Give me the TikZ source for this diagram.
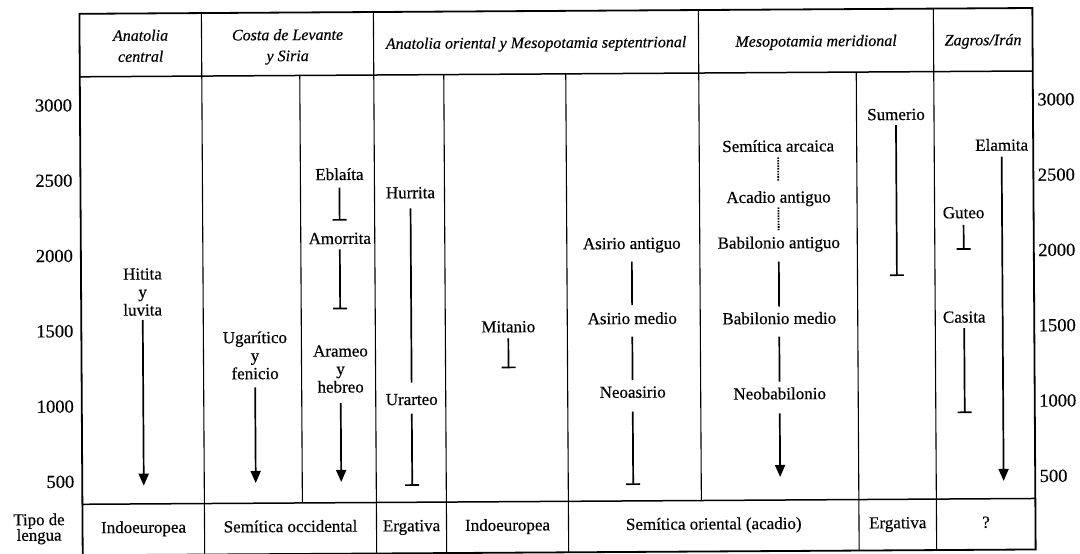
\documentclass[tikz,border=0pt]{standalone}
\usepackage{fontspec}
\setmainfont{Liberation Serif}[FakeBold=0.4]
\usetikzlibrary{arrows.meta}
\begin{document}
\begin{tikzpicture}[x=1pt,y=-1pt,
  frameln/.style={line width=1.8pt},
  hline/.style={line width=1.5pt},
  vline/.style={line width=1.1pt},
  lbl/.style={inner sep=0pt, outer sep=0pt, align=center, font=\fontsize{17}{18}\selectfont},
  sl/.style={inner sep=0pt, outer sep=0pt, anchor=base, text height=11.6pt, text depth=3.7pt, font=\fontsize{17}{18}\selectfont},
  hdr/.style={inner sep=0pt, outer sep=0pt, align=center, font=\fontsize{16}{21}\selectfont\itshape},
  yrlbl/.style={inner sep=0pt, outer sep=0pt, font=\fontsize{18.5}{20}\selectfont},
  ln/.style={line width=1.7pt},
  arr/.style={ln, -{Triangle[width=10pt,length=12pt]}},
  tbar/.style={ln, -{Bar[width=14pt]}},
  dotln/.style={line width=1.8pt, dash pattern=on 1.6pt off 1.1pt},
]
\useasboundingbox (0,0) rectangle (1080,554);
\begin{scope}[rotate around={0.35:(540,277)}, transform shape]
% frame and grid
\draw[frameln] (81,11) rectangle (1034,552.5);
\draw[hline] (81,74) -- (1034,74);
\draw[hline] (81,501.5) -- (1034,501.5);
\foreach \xx in {203,375,935} \draw[vline] (\xx,11) -- (\xx,552.5);
\draw[vline] (700,11) -- (700,501.5);
\foreach \xx in {445,567,857.5} \draw[vline] (\xx,74) -- (\xx,552.5);
\draw[vline] (301,74) -- (301,501.5);

% headers
\node[hdr, anchor=south] (h1) at (142,59.5) {Anatolia\\central};
\node[hdr, anchor=south] (h2) at (289,63) {Costa de Levante\\y Siria};
\node[hdr, anchor=base] (h3) at (537.5,48) {Anatolia oriental y Mesopotamia septentrional};
\node[hdr, anchor=base] (h4) at (817.5,48) {Mesopotamia meridional};
\node[hdr, anchor=base] (h5) at (984.5,48) {Zagros/Irán};

% year scale
\foreach \v [count=\i from 0] in {3000,2500,2000,1500,1000,500} {
  \node[yrlbl, anchor=base east] (yl\i) at (73,{108.5+75.3*\i}) {\v};
  \node[yrlbl, anchor=base west] (yr\i) at (1038.5,{108.5+75.3*\i}) {\v};
}
\node[inner sep=0pt, align=center, anchor=south, font={\fontsize{16.8}{15.5}\selectfont\lineskiplimit=-6pt}] (tipo) at (37.5,541.5) {Tipo de\\lengua};

% Anatolia central
\node[lbl, anchor=south] (hit) at (142.5,313.3) {Hitita\\y\\luvita};
\coordinate (hit-e) at (142.5,483.3);
\draw[arr, shorten <=4.3pt] (hit) -- (hit-e);

% Costa de Levante y Siria
\node[lbl, anchor=south] (uga) at (254.5,377.6) {Ugarítico\\y\\fenicio};
\coordinate (uga-e) at (254.5,481.3);
\draw[arr, shorten <=8pt] (uga) -- (uga-e);

\node[sl] (ebl) at (340,178.8) {Eblaíta};
\coordinate (ebl-e) at (340,219.5);
\draw[tbar, shorten <=4pt] (ebl) -- (ebl-e);
\node[sl] (amo) at (340,242.8) {Amorrita};
\coordinate (amo-e) at (340,308.1);
\draw[tbar, shorten <=1.6pt] (amo) -- (amo-e);
\node[lbl, anchor=south] (ara) at (340,391.5) {Arameo\\y\\hebreo};
\coordinate (ara-e) at (340,480.8);
\draw[arr, shorten <=10.3pt] (ara) -- (ara-e);

% Anatolia oriental y Mesopotamia septentrional
\node[sl] (hur) at (411,197.5) {Hurrita};
\node[sl] (ura) at (411,404.2) {Urarteo};
\draw[ln, shorten <=6.3pt, shorten >=10.7pt] (hur) -- (ura);
\coordinate (ura-e) at (411,485.2);
\draw[tbar, shorten <=4.9pt] (ura) -- (ura-e);

\node[sl] (mit) at (508,332.1) {Mitanio};
\coordinate (mit-e) at (508,368.1);
\draw[tbar, shorten <=2.3pt] (mit) -- (mit-e);

\node[sl] (asa) at (632,249.6) {Asirio antiguo};
\node[sl] (asm) at (632,324.6) {Asirio medio};
\node[sl] (neoa) at (632,398.3) {Neoasirio};
\draw[ln, shorten <=9pt, shorten >=7.4pt] (asa) -- (asm);
\draw[ln, shorten <=9pt, shorten >=6.1pt] (asm) -- (neoa);
\coordinate (neoa-e) at (632,485.6);
\draw[tbar, shorten <=10.3pt] (neoa) -- (neoa-e);

% Mesopotamia meridional
\node[sl] (sema) at (779,153.2) {Semítica arcaica};
\node[sl] (acad) at (779,204.2) {Acadio antiguo};
\node[sl] (baba) at (779,249.8) {Babilonio antiguo};
\node[sl] (babm) at (779,325.5) {Babilonio medio};
\node[sl] (neob) at (779,400.8) {Neobabilonio};
\draw[dotln, shorten <=1.9pt, shorten >=10.1pt] (sema) -- (acad);
\draw[dotln, shorten <=0.9pt, shorten >=6.7pt] (acad) -- (baba);
\draw[ln, shorten <=9.7pt, shorten >=5.7pt] (baba) -- (babm);
\draw[ln, shorten <=9pt, shorten >=6pt] (babm) -- (neob);
\coordinate (neob-e) at (779,478.5);
\draw[arr, shorten <=10.3pt] (neob) -- (neob-e);

\node[sl] (sum) at (897,122.2) {Sumerio};
\coordinate (sum-e) at (897,278.2);
\draw[tbar, shorten <=1.3pt] (sum) -- (sum-e);

% Zagros / Iran
\node[sl] (ela) at (1002.5,153.5) {Elamita};
\coordinate (ela-e) at (1002.5,483.8);
\draw[arr, shorten <=2.3pt] (ela) -- (ela-e);
\node[sl] (gut) at (964,220.8) {Guteo};
\coordinate (gut-e) at (964,252.5);
\draw[tbar, shorten <=3pt] (gut) -- (gut-e);
\node[sl] (cas) at (964,325.2) {Casita};
\coordinate (cas-e) at (964,415.8);
\draw[tbar, shorten <=1.9pt] (cas) -- (cas-e);

% language types
\node[sl] (t1) at (142,530.5) {Indoeuropea};
\node[sl] (t2) at (289,530.5) {Semítica occidental};
\node[sl] (t3) at (410,530.5) {Ergativa};
\node[sl] (t4) at (506,530.5) {Indoeuropea};
\node[sl] (t5) at (712.25,530.5) {Semítica oriental (acadio)};
\node[sl] (t6) at (896.25,530.5) {Ergativa};
\node[sl] (t7) at (984.5,530.5) {?};
\end{scope}
\end{tikzpicture}
\end{document}
